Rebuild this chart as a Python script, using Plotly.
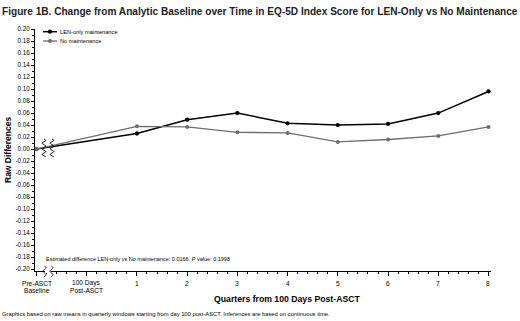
import math
import plotly.graph_objects as go

# ---- data ----
x_positions = [-1, 1, 2, 3, 4, 5, 6, 7, 8]
len_only = [0.000, 0.026, 0.049, 0.060, 0.043, 0.040, 0.042, 0.060, 0.096]
no_maint = [0.000, 0.038, 0.037, 0.028, 0.027, 0.012, 0.016, 0.022, 0.037]
tick_vals = [-1, 0, 1, 2, 3, 4, 5, 6, 7, 8]
tick_text = ["Pre-ASCT<br>Baseline", "100 Days<br>Post-ASCT", "1", "2", "3", "4", "5", "6", "7", "8"]
y_tick_vals = [round(-0.20 + 0.02 * i, 2) for i in range(21)]
y_tick_text = [f"{v:.2f}" for v in y_tick_vals]

W, H = 520, 321
ML, MR, MT, MB = 35, 29, 29, 50
PW, PH = W - ML - MR, H - MT - MB

def px(x):
    return (x - ML) / PW

def py(y):
    return (H - MB - y) / PH

def wave(xc, y0, y1, amp=1.8, half=2.8):
    n = 60
    pts = []
    for i in range(n + 1):
        y = y0 + (y1 - y0) * i / n
        x = xc + amp * math.sin((y - y0) / half * math.pi)
        pts.append(f"{px(x):.5f},{py(y):.5f}")
    return "M " + " L ".join(pts)

FONT = "Liberation Sans, Arial, sans-serif"

fig = go.Figure()
fig.add_trace(go.Scatter(x=x_positions, y=len_only, mode="lines+markers",
                         line=dict(color="#000000", width=1.5),
                         marker=dict(color="#000000", size=4.3),
                         name="LEN-only maintenance", showlegend=False))
fig.add_trace(go.Scatter(x=x_positions, y=no_maint, mode="lines+markers",
                         line=dict(color="#6e6e6e", width=1.3),
                         marker=dict(color="#6e6e6e", size=4),
                         name="No maintenance", showlegend=False))

shapes = []
# break marks on data lines
for xc in (44, 52):
    shapes.append(dict(type="path", xref="paper", yref="paper", path=wave(xc, 139, 157),
                       line=dict(color="#000", width=1)))
# break on x axis
shapes.append(dict(type="rect", xref="paper", yref="paper", x0=px(45), x1=px(51),
                   y0=py(273), y1=py(269), fillcolor="white", line=dict(width=0)))
for xc in (44.5, 51.5):
    shapes.append(dict(type="path", xref="paper", yref="paper", path=wave(xc, 266, 277, amp=1.5, half=3.5),
                       line=dict(color="#000", width=0.9)))
# manual legend
leg = [(31.7, "#000000", 1.5, 4.3, "LEN-only maintenance"), (41, "#6e6e6e", 1.3, 4, "No maintenance")]
annotations = []
for yy, col, lw, ms, label in leg:
    shapes.append(dict(type="line", xref="paper", yref="paper", x0=px(43), x1=px(57), y0=py(yy), y1=py(yy),
                       line=dict(color=col, width=lw)))
    r = ms / 2
    shapes.append(dict(type="circle", xref="paper", yref="paper", x0=px(50 - r), x1=px(50 + r),
                       y0=py(yy + r), y1=py(yy - r), fillcolor=col, line=dict(color=col, width=0)))
    annotations.append(dict(xref="paper", yref="paper", x=px(59), y=py(yy), xanchor="left", yanchor="middle",
                            text=label, showarrow=False, borderpad=0,
                            font=dict(size=5.7, color="#000", family=FONT)))

# x tick labels as text lines placed under the ticks
for tv, tt in zip(tick_vals, tick_text):
    for i, line in enumerate(tt.split("<br>")):
        annotations.append(dict(xref="x", yref="paper", x=tv, y=py(283.3 + 7.4 * i), xanchor="center",
                                yanchor="middle", text=line, showarrow=False, borderpad=0,
                                font=dict(size=6.6, color="#000", family=FONT)))

annotations += [
    dict(xref="paper", yref="paper", x=px(45), y=py(259.3), xanchor="left", yanchor="middle",
         text="Estimated difference LEN-only vs No maintenance: 0.0166, <i>P</i> value: 0.1998",
         showarrow=False, borderpad=0, font=dict(size=5.5, color="#000", family=FONT)),
    dict(xref="paper", yref="paper", x=px(8), y=py(150), xanchor="center", yanchor="middle", textangle=-90,
         text="<b>Raw Differences</b>", showarrow=False, font=dict(size=8.5, color="#000", family=FONT)),
    dict(xref="paper", yref="paper", x=px(287), y=py(299), xanchor="center", yanchor="middle",
         text="<b>Quarters from 100 Days Post-ASCT</b>", showarrow=False,
         font=dict(size=8.7, color="#000", family=FONT)),
    dict(xref="paper", yref="paper", x=px(0.5), y=py(314), xanchor="left", yanchor="middle",
         text="Graphics based on raw means in quarterly windows starting from day 100 post-ASCT. Inferences are based on continuous time.",
         showarrow=False, borderpad=0, font=dict(size=5.8, color="#000", family=FONT)),
    dict(xref="paper", yref="paper", x=px(0.5), y=py(11), xanchor="left", yanchor="middle",
         text="<b>Figure 1B. Change from Analytic Baseline over Time in EQ-5D Index Score for LEN-Only vs No Maintenance</b>",
         showarrow=False, borderpad=0, font=dict(size=10.1, color="#222", family=FONT)),
]

fig.update_layout(
    width=W, height=H, margin=dict(l=ML, r=MR, t=MT, b=MB, pad=0),
    paper_bgcolor="white", plot_bgcolor="white",
    font=dict(family=FONT, color="#000"),
    showlegend=False,
    shapes=shapes, annotations=annotations,
    xaxis=dict(range=[-1.03, 8.05], tickmode="array", tickvals=tick_vals, showticklabels=False,
               showgrid=False, zeroline=False, showline=True, linecolor="#000", linewidth=1,
               ticks="outside", ticklen=4, tickwidth=1, tickcolor="#000",
               minor=dict(dtick=0.2, tick0=0, ticks="outside", ticklen=2, tickcolor="#000", tickwidth=0.8),
               fixedrange=True),
    yaxis=dict(range=[-0.203, 0.20], tickmode="array", tickvals=y_tick_vals, ticktext=y_tick_text,
               showgrid=False, zeroline=False, showline=True, linecolor="#000", linewidth=1,
               ticks="outside", ticklen=3, tickwidth=1, tickcolor="#000",
               tickfont=dict(size=6.3, family=FONT),
               minor=dict(dtick=0.01, tick0=0, ticks="outside", ticklen=2, tickcolor="#000", tickwidth=0.8),
               fixedrange=True),
)

fig.write_html("out.html", config={"displayModeBar": False},
               post_script="document.body.style.margin='0';document.body.style.overflow='hidden';")
